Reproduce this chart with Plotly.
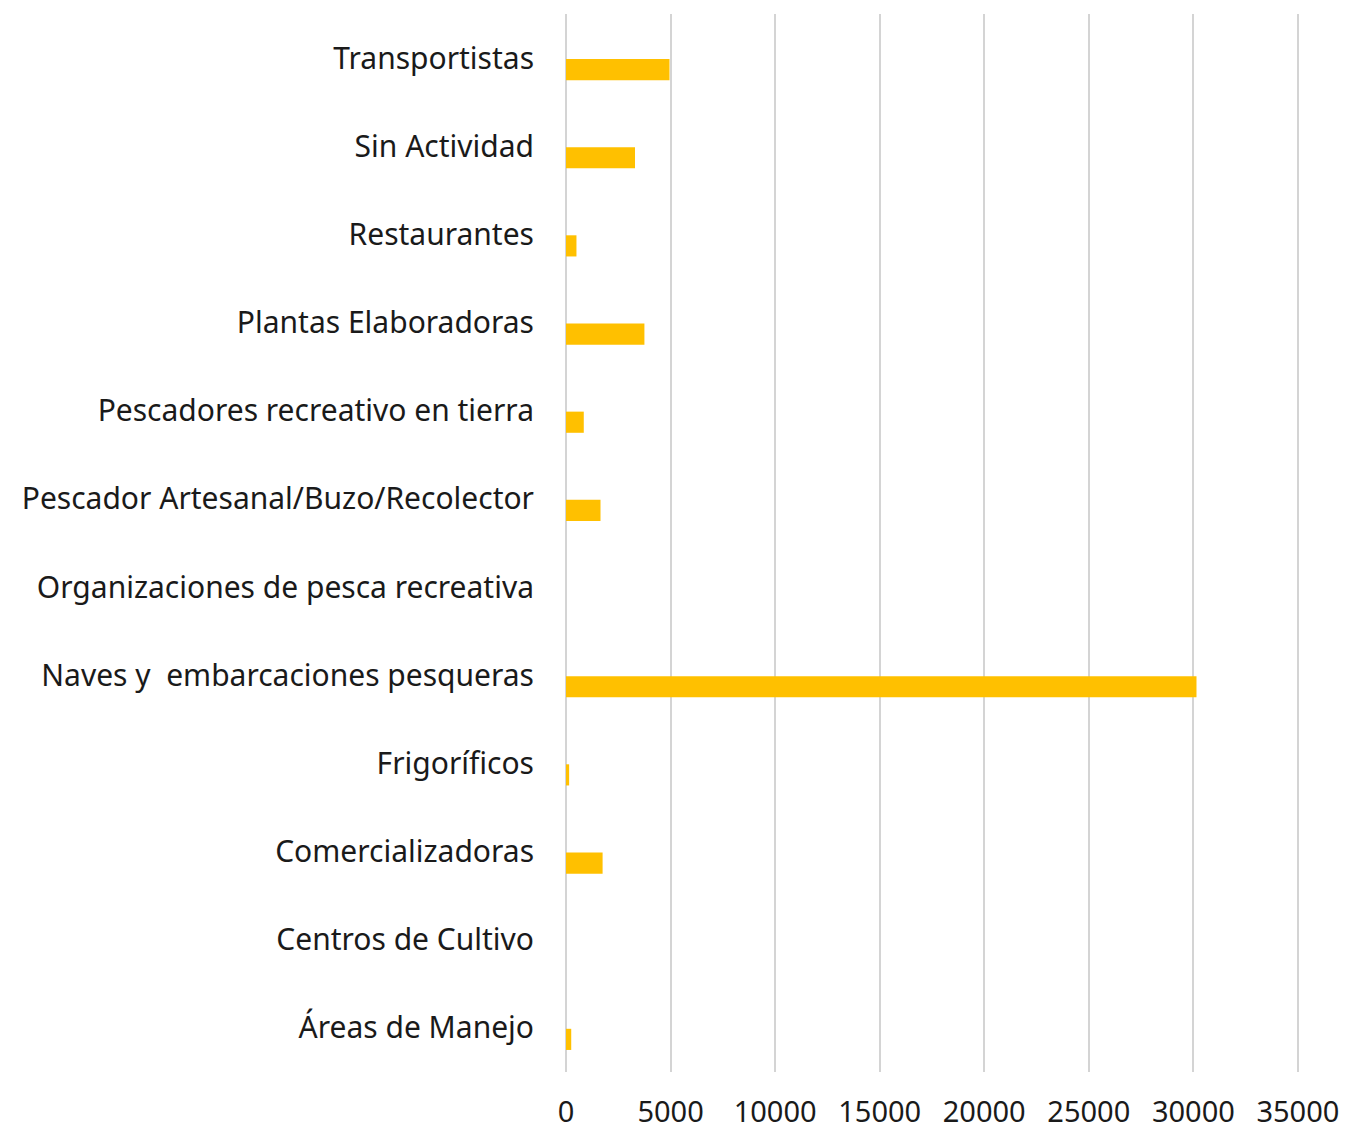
import plotly.graph_objects as go

# categories listed bottom -> top (plotly draws the first category at the bottom)
categories = [
    "Áreas de Manejo",
    "Centros de Cultivo",
    "Comercializadoras",
    "Frigoríficos",
    "Naves y  embarcaciones pesqueras",
    "Organizaciones de pesca recreativa",
    "Pescador Artesanal/Buzo/Recolector",
    "Pescadores recreativo en tierra",
    "Plantas Elaboradoras",
    "Restaurantes",
    "Sin Actividad",
    "Transportistas",
]
values = [250, 0, 1750, 150, 30150, 0, 1650, 850, 3750, 500, 3300, 4950]
x_ticks = [0, 5000, 10000, 15000, 20000, 25000, 30000, 35000]

FONT = "Noto Sans"
GRID = "#d4d4d4"

fig = go.Figure()
fig.add_trace(go.Bar(
    y=categories,
    x=values,
    orientation="h",
    marker=dict(color="#FFC000", line=dict(width=0)),
    width=0.24,
    offset=-0.25,
    showlegend=False,
))

fig.update_layout(
    width=1349,
    height=1135,
    margin=dict(l=566, r=49, t=14, b=63),
    plot_bgcolor="white",
    paper_bgcolor="white",
    font=dict(family=FONT, size=30, color="#1a1a1a"),
)
# range a bit past 35000 so the last gridline is still drawn
fig.update_xaxes(
    range=[0, 35100],
    tickvals=x_ticks,
    ticktext=[str(v) for v in x_ticks],
    showgrid=True,
    gridcolor=GRID,
    gridwidth=2,
    zeroline=True,
    zerolinecolor=GRID,
    zerolinewidth=2,
    showline=False,
    ticks="",
    ticklabelstandoff=20,
    automargin=False,
    tickfont=dict(family=FONT, size=29),
)
fig.update_yaxes(
    showgrid=False,
    zeroline=False,
    showline=False,
    ticks="",
    ticklabelstandoff=31,
    automargin=False,
    tickfont=dict(family=FONT, size=30),
)

# drop the default body margin so the figure fills the window exactly
fig.write_html(
    "out.html",
    config={"displayModeBar": False},
    post_script="document.body.style.margin='0';",
)
